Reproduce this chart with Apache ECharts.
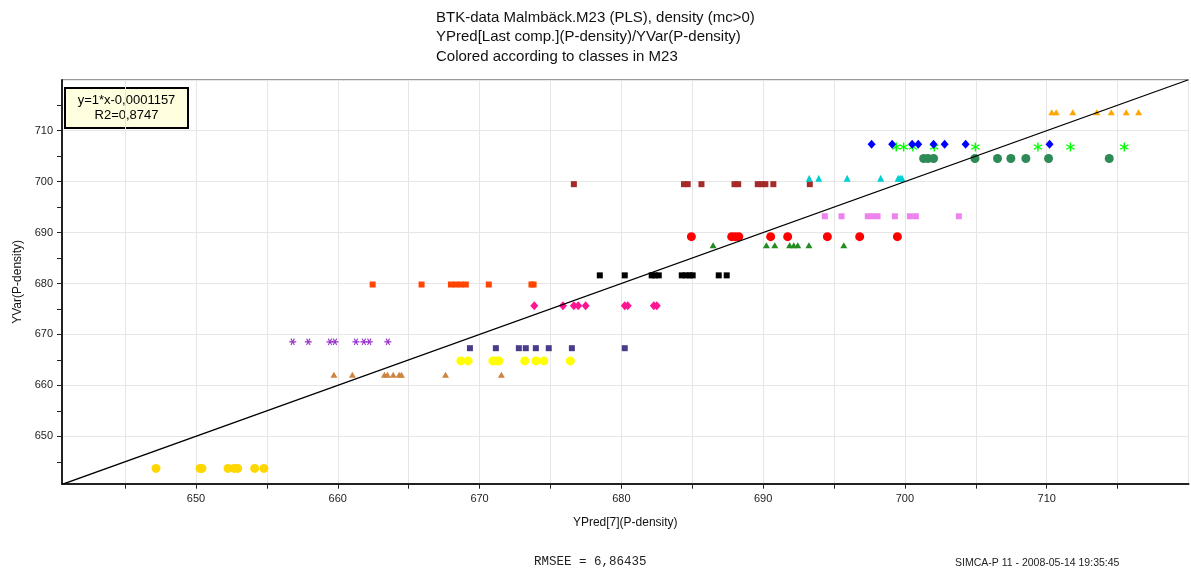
<!DOCTYPE html>
<html>
<head>
<meta charset="utf-8">
<title>BTK-data Malmbäck.M23 (PLS), density</title>
<script src="https://cdn.jsdelivr.net/npm/echarts@6/dist/echarts.min.js"></script>
<style>
  html, body { margin: 0; padding: 0; background: #ffffff; }
  #chart { width: 1191px; height: 569px; }
</style>
</head>
<body>
<div id="chart"></div>
<script>
// Observed P-density (YVar) per class, and the predicted values (YPred[7]) of its samples
const class1Y = 643.7;
const class1X = [647.18, 650.28, 650.42, 652.26, 652.68, 652.94, 654.14, 654.79];
const class2Y = 662.1;
const class2X = [659.73, 661.03, 663.29, 663.50, 663.91, 664.33, 664.49, 667.60, 671.54];
const class3Y = 664.8;
const class3X = [668.68, 669.19, 670.94, 671.15, 671.36, 673.19, 673.97, 674.53, 676.40];
const class4Y = 667.3;
const class4X = [669.32, 671.15, 672.77, 673.26, 673.97, 674.88, 676.51, 680.24];
const class5Y = 668.55;
const class5X = [656.82, 657.92, 659.45, 659.80, 661.28, 661.84, 662.22, 663.53];
const class6Y = 675.65;
const class6X = [673.86, 675.88, 676.65, 676.96, 677.48, 680.24, 680.45, 682.29, 682.50];
const class7Y = 679.8;
const class7X = [662.46, 665.91, 667.98, 668.33, 668.68, 669.03, 670.65, 673.66, 673.81];
const class8Y = 681.6;
const class8X = [678.48, 680.24, 682.14, 682.35, 682.64, 684.26, 684.54, 684.82, 685.03, 686.87, 687.43];
const class9Y = 687.5;
const class9X = [686.47, 690.23, 690.82, 691.87, 692.16, 692.44, 693.23, 695.69];
const class10Y = 689.2;
const class10X = [684.94, 687.78, 688.03, 688.28, 690.53, 691.73, 694.53, 696.81, 699.47];
const class11Y = 693.2;
const class11X = [694.35, 695.53, 697.38, 697.73, 698.07, 699.29, 700.35, 700.77, 703.80];
const class12Y = 699.5;
const class12X = [676.65, 684.42, 684.68, 685.65, 687.98, 688.24, 689.62, 689.92, 690.16, 690.72, 693.29];
const class13Y = 700.65;
const class13X = [693.25, 693.92, 695.93, 698.29, 699.52, 699.66, 699.80];
const class14Y = 704.54;
const class14X = [701.32, 701.62, 702.02, 704.94, 706.53, 707.47, 708.53, 710.13, 714.41];
const class15Y = 706.8;
const class15X = [699.39, 699.91, 700.56, 702.07, 704.97, 709.38, 711.67, 715.47];
const class16Y = 707.36;
const class16X = [697.65, 699.10, 700.51, 700.94, 702.02, 702.80, 704.28, 710.20];
const class17Y = 713.6;
const class17X = [710.36, 710.67, 711.84, 713.53, 714.55, 715.61, 716.48];

// Fitted line y = slope * x + intercept, and its fit statistics
const fitSlope = 1;
const fitIntercept = -0.0001157;
const fitR2 = '0,8747';
const rmsee = '6,86435';

// Axis extents (same units on both axes)
const xRange = [640.55, 720.0];
const yRange = [640.7, 719.95];

const classes = [
  [class1X, class1Y], [class2X, class2Y], [class3X, class3Y], [class4X, class4Y],
  [class5X, class5Y], [class6X, class6Y], [class7X, class7Y], [class8X, class8Y],
  [class9X, class9Y], [class10X, class10Y], [class11X, class11Y], [class12X, class12Y],
  [class13X, class13Y], [class14X, class14Y], [class15X, class15Y], [class16X, class16Y],
  [class17X, class17Y]
];

// Asterisk markers: a horizontal-bar variant and a vertical-bar variant
const asteriskH = 'path://M0 8.5L20 8.5L20 11.5L0 11.5Z' +
  'M3.7 2.09L6.3 0.59L16.3 17.91L13.7 19.41Z' +
  'M16.3 2.09L6.3 19.41L3.7 17.91L13.7 0.59Z';
const asteriskV = 'path://M8.5 0L11.5 0L11.5 20L8.5 20Z' +
  'M0.59 6.3L2.09 3.7L19.41 13.7L17.91 16.3Z' +
  'M0.59 13.7L17.91 3.7L19.41 6.3L2.09 16.3Z';

// Marker look per class, in the same order as `classes`
const markerStyles = [
  { color: '#FFD700', symbol: 'circle', size: 9 },
  { color: '#CD853F', symbol: 'triangle', size: [7, 6] },
  { color: '#FFFF00', symbol: 'circle', size: 9 },
  { color: '#483D8B', symbol: 'rect', size: 6 },
  { color: '#9932CC', symbol: asteriskH, size: 7 },
  { color: '#FF1493', symbol: 'diamond', size: [8, 9] },
  { color: '#FF4500', symbol: 'rect', size: 6 },
  { color: '#000000', symbol: 'rect', size: 6 },
  { color: '#228B22', symbol: 'triangle', size: [7, 6] },
  { color: '#FF0000', symbol: 'circle', size: 9 },
  { color: '#EE82EE', symbol: 'rect', size: 6 },
  { color: '#A52A2A', symbol: 'rect', size: 6 },
  { color: '#00CED1', symbol: 'triangle', size: [7, 7] },
  { color: '#2E8B57', symbol: 'circle', size: 9 },
  { color: '#00FF00', symbol: asteriskV, size: 9 },
  { color: '#0000FF', symbol: 'diamond', size: [8, 9] },
  { color: '#FFA500', symbol: 'triangle', size: [7, 6] }
];

const fontSans = '"Liberation Sans", Arial, sans-serif';
const tenOnly = (v) => (Math.abs(v % 10) < 1e-6 && v < 720 ? String(Math.round(v)) : '');

const scatterSeries = classes.map(([xs, y], i) => ({
  type: 'scatter',
  name: 'Class ' + (i + 1),
  xAxisIndex: 0,
  yAxisIndex: 0,
  symbol: markerStyles[i].symbol,
  symbolSize: markerStyles[i].size,
  itemStyle: { color: markerStyles[i].color, opacity: 1 },
  emphasis: { disabled: true },
  data: xs.map((x) => [x, y])
}));

const fitLine = {
  type: 'line',
  name: 'fit',
  xAxisIndex: 0,
  yAxisIndex: 0,
  showSymbol: false,
  symbol: 'none',
  clip: true,
  z: 3,
  lineStyle: { color: '#000000', width: 1.3 },
  data: xRange.map((x) => [x, fitSlope * x + fitIntercept])
};

const chart = echarts.init(document.getElementById('chart'), null, { renderer: 'canvas' });

chart.setOption({
  animation: false,
  backgroundColor: '#ffffff',
  grid: {
    left: 62, right: 2.5, top: 80, bottom: 85.3,
    show: true, borderColor: '#333333', borderWidth: 1, backgroundColor: 'transparent'
  },
  xAxis: [{
    type: 'value',
    min: xRange[0], max: xRange[1],
    minInterval: 5, maxInterval: 5, splitNumber: 16,
    name: 'YPred[7](P-density)',
    nameLocation: 'middle', nameGap: 33,
    nameTextStyle: { fontFamily: fontSans, fontSize: 12, color: '#111111' },
    axisLine: { show: true, onZero: false, lineStyle: { color: '#222222', width: 2 } },
    axisTick: { show: true, length: 5, lineStyle: { color: '#222222', width: 1 } },
    axisLabel: { formatter: tenOnly, fontFamily: fontSans, fontSize: 11, color: '#222222', margin: 10, showMinLabel: false, showMaxLabel: false },
    splitLine: { show: true, lineStyle: { color: '#e6e6e6', width: 1 } }
  }],
  yAxis: [{
    type: 'value',
    min: yRange[0], max: yRange[1],
    minInterval: 5, maxInterval: 5, splitNumber: 16,
    name: 'YVar(P-density)',
    nameLocation: 'middle', nameGap: 38,
    nameTextStyle: { fontFamily: fontSans, fontSize: 12, color: '#111111' },
    axisLine: { show: true, onZero: false, lineStyle: { color: '#222222', width: 2 } },
    axisTick: { show: true, length: 5, lineStyle: { color: '#222222', width: 1 } },
    axisLabel: { formatter: tenOnly, fontFamily: fontSans, fontSize: 11, color: '#222222', margin: 9, showMinLabel: false, showMaxLabel: false },
    splitLine: { show: false }
  }, {
    // horizontal grid lines every 10 units
    type: 'value',
    position: 'left',
    min: yRange[0], max: yRange[1],
    minInterval: 10, maxInterval: 10, splitNumber: 8,
    axisLine: { show: false },
    axisTick: { show: false },
    axisLabel: { show: false },
    splitLine: { show: true, lineStyle: { color: '#e6e6e6', width: 1 } }
  }],
  series: [...scatterSeries, fitLine],
  graphic: [
    {
      type: 'text', left: 436, top: 8, z: 10,
      style: {
        text: 'BTK-data Malmbäck.M23 (PLS), density (mc>0)\nYPred[Last comp.](P-density)/YVar(P-density)\nColored according to classes in M23',
        fontFamily: fontSans, fontSize: 15, lineHeight: 19.5, fill: '#111111'
      }
    },
    {
      type: 'group', left: 64, top: 87, z: 20,
      children: [
        { type: 'rect', shape: { x: 0, y: 0, width: 123, height: 40 },
          style: { fill: '#ffffe0', stroke: '#000000', lineWidth: 2 } },
        { type: 'text', x: 61.5, y: 20,
          style: { text: 'y=' + fitSlope + '*x' + String(fitIntercept).replace('.', ',') + '\nR2=' + fitR2,
                   fontFamily: fontSans, fontSize: 13, lineHeight: 15, fill: '#000000',
                   align: 'center', verticalAlign: 'middle' } }
      ]
    },
    {
      type: 'text', left: 534, top: 555, z: 10,
      style: { text: 'RMSEE = ' + rmsee, fontFamily: '"Liberation Mono", "DejaVu Sans Mono", monospace', fontSize: 12.5, fill: '#222222' }
    },
    {
      type: 'text', left: 955, top: 558, z: 10,
      style: { text: 'SIMCA-P 11 - 2008-05-14 19:35:45', fontFamily: fontSans, fontSize: 10.5, fill: '#222222' }
    }
  ]
});
</script>
</body>
</html>
